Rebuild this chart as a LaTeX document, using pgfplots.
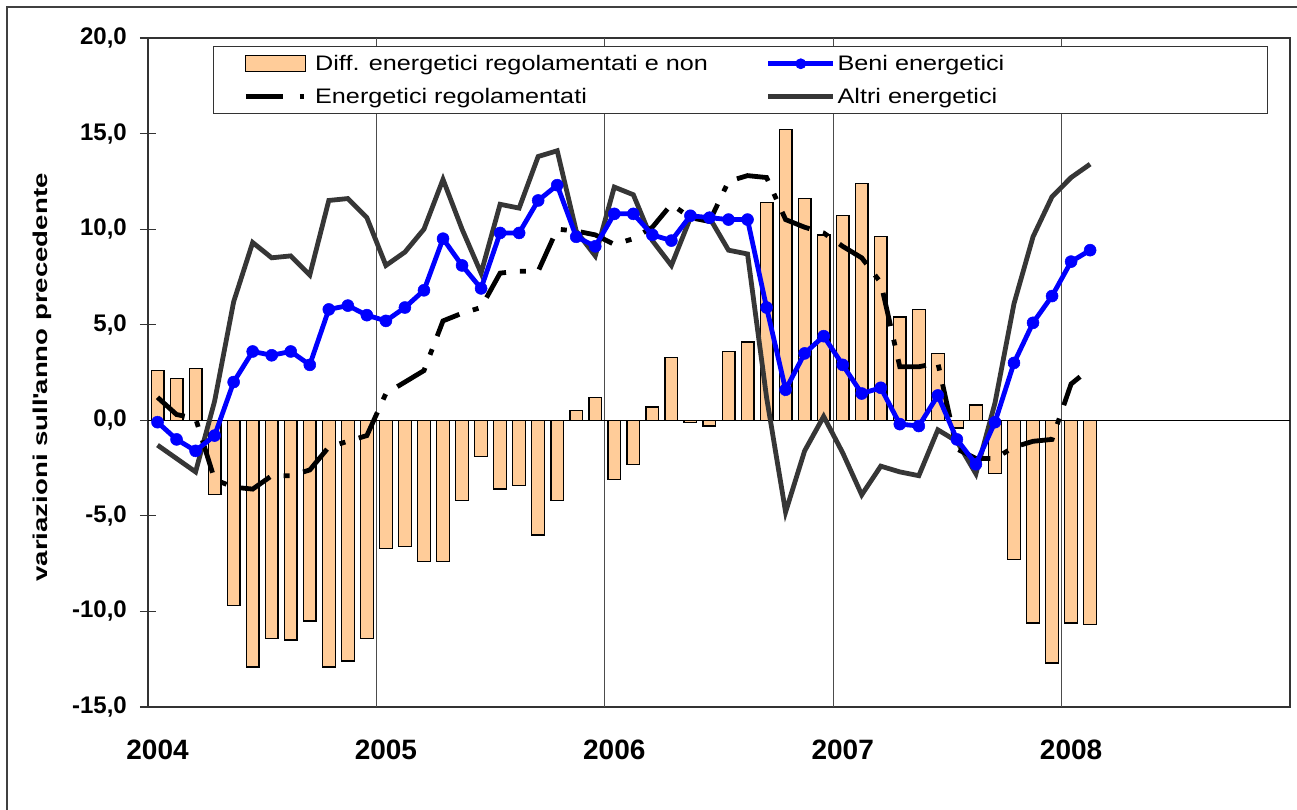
\documentclass[border=0pt]{standalone}
\usepackage{fontspec}
\setmainfont{Liberation Sans}
\newfontfamily\legfont{Liberation Sans}[FakeStretch=1.2]
\newfontfamily\ylabfont{Liberation Sans}[FakeStretch=1.38]
\usepackage{pgfplots}
\usepackage{pgfplotstable}
\pgfplotsset{compat=1.18}
\definecolor{peach}{HTML}{FFCC99}
\definecolor{dgray}{HTML}{363636}

\pgfplotstableread{
x y
0 2.6
1 2.2
2 2.7
3 -3.9
4 -9.7
5 -12.9
6 -11.4
7 -11.5
8 -10.5
9 -12.9
10 -12.6
11 -11.4
12 -6.7
13 -6.6
14 -7.4
15 -7.4
16 -4.2
17 -1.9
18 -3.6
19 -3.4
20 -6.0
21 -4.2
22 0.5
23 1.2
24 -3.1
25 -2.3
26 0.7
27 3.3
28 -0.1
29 -0.3
30 3.6
31 4.1
32 11.4
33 15.2
34 11.6
35 9.7
36 10.7
37 12.4
38 9.6
39 5.4
40 5.8
41 3.5
42 -0.4
43 0.8
44 -2.8
45 -7.3
46 -10.6
47 -12.7
48 -10.6
49 -10.7
}\diffdata

\pgfplotstableread{
x y
0 -0.1
1 -1.0
2 -1.6
3 -0.8
4 2.0
5 3.6
6 3.4
7 3.6
8 2.9
9 5.8
10 6.0
11 5.5
12 5.2
13 5.9
14 6.8
15 9.5
16 8.1
17 6.9
18 9.8
19 9.8
20 11.5
21 12.3
22 9.6
23 9.1
24 10.8
25 10.8
26 9.7
27 9.4
28 10.7
29 10.6
30 10.5
31 10.5
32 5.9
33 1.6
34 3.5
35 4.4
36 2.9
37 1.4
38 1.7
39 -0.2
40 -0.3
41 1.3
42 -1.0
43 -2.3
44 -0.1
45 3.0
46 5.1
47 6.5
48 8.3
49 8.9
}\benidata

\pgfplotstableread{
x y
0 1.2
1 0.3
2 0.1
3 -3.1
4 -3.5
5 -3.6
6 -2.9
7 -2.9
8 -2.6
9 -1.4
10 -1.1
11 -0.8
12 1.4
13 2.0
14 2.6
15 5.2
16 5.6
17 5.9
18 7.7
19 7.8
20 7.8
21 10.0
22 9.9
23 9.7
24 9.2
25 9.5
26 10.1
27 11.3
28 10.6
29 10.4
30 12.5
31 12.8
32 12.7
33 10.5
34 10.1
35 9.8
36 9.1
37 8.5
38 7.2
39 2.8
40 2.8
41 3.0
42 -1.5
43 -2.0
44 -2.0
45 -1.4
46 -1.1
47 -1.0
48 1.9
49 2.7
}\regdata

\pgfplotstableread{
x y
0 -1.3
1 -2.0
2 -2.7
3 1.0
4 6.2
5 9.3
6 8.5
7 8.6
8 7.6
9 11.5
10 11.6
11 10.6
12 8.1
13 8.8
14 10.0
15 12.6
16 10.0
17 7.7
18 11.3
19 11.1
20 13.8
21 14.1
22 9.9
23 8.6
24 12.2
25 11.8
26 9.4
27 8.1
28 10.6
29 10.6
30 8.9
31 8.7
32 1.2
33 -4.8
34 -1.6
35 0.2
36 -1.7
37 -3.9
38 -2.4
39 -2.7
40 -2.9
41 -0.5
42 -1.1
43 -2.8
44 0.9
45 6.1
46 9.6
47 11.7
48 12.7
49 13.4
}\altridata

\begin{document}
\begin{tikzpicture}
\path[use as bounding box] (-148bp,-103bp) rectangle (1149bp,707bp);
\begin{axis}[
  at={(0bp,0bp)}, anchor=south west,
  width=1142bp, height=669bp, scale only axis,
  xmin=-0.5, xmax=59.5, ymin=-15, ymax=20,
  axis line style={draw=black!80, line width=1.2bp},
  xtick={0,12,24,36,48},
  xticklabels={2004,2005,2006,2007,2008},
  extra x ticks={11.5,23.5,35.5,47.5},
  extra x tick labels={},
  extra x tick style={grid=major, major grid style={draw=black!70, line width=1bp}},
  ytick={-15,-10,-5,0,5,10,15,20},
  yticklabels={{-15,0},{-10,0},{-5,0},{0,0},{5,0},{10,0},{15,0},{20,0}},
  ytick pos=left,
  tick align=center,
  major tick length=16bp,
  xtick style={draw=none},
  ytick style={draw=black!80, line width=1.2bp},
  yticklabel style={font=\fontsize{24bp}{24bp}\selectfont\bfseries, inner sep=0pt, anchor=east, xshift=-13bp},
  xticklabel style={font=\fontsize{28bp}{28bp}\selectfont\bfseries, inner sep=0pt, anchor=north, yshift=-25bp},
  ylabel={variazioni sull\textquotesingle anno precedente},
  every axis y label/.style={at={(axis description cs:-0.0924,0.4925)}, rotate=90, anchor=center,
     font=\fontsize{20bp}{20bp}\ylabfont\bfseries},
  legend columns=2,
  legend cell align=left,
  legend style={at={(axis description cs:0.0569,0.988)}, anchor=north west,
    draw=black!80, line width=0.8bp, inner xsep=30bp, inner ysep=7bp,
    font=\fontsize{21bp}{24bp}\legfont,
    /tikz/every even column/.append style={column sep=56bp},
    row sep=12bp},
]
\addplot[ybar, bar width=12.7bp, fill=peach, draw=black, line width=1.3bp, forget plot] table[x=x,y=y] {\diffdata};
\draw[black, line width=1.2bp] (axis cs:-0.5,0) -- (axis cs:59.5,0);
\addplot[dgray, line width=4.8bp, mark=none, forget plot] table[x=x,y=y] {\altridata};
\addplot[black, line width=4.8bp, mark=none, dash pattern=on 34bp off 14bp on 6bp off 14bp, forget plot] table[x=x,y=y] {\regdata};
\addplot[blue, line width=4.8bp, mark=*, mark size=6bp, mark options={solid, fill=blue, draw=blue, line width=0.5bp}, forget plot] table[x=x,y=y] {\benidata};

\addlegendimage{legend image code/.code={\draw[fill=peach, draw=black, line width=1.3bp] (0bp,-8bp) rectangle (60bp,8bp);}}
\addlegendentry{Diff. energetici regolamentati e non}
\addlegendimage{legend image code/.code={\draw[blue, line width=4.8bp] (0bp,0bp) -- (65bp,0bp); \fill[blue] (32.5bp,0bp) circle (5bp);}}
\addlegendentry{\makebox[398bp][l]{Beni energetici}}
\addlegendimage{legend image code/.code={\draw[black, line width=4.8bp, dash pattern=on 37bp off 17bp on 4bp off 17bp] (0bp,0bp) -- (65bp,0bp);}}
\addlegendentry{Energetici regolamentati}
\addlegendimage{legend image code/.code={\draw[dgray, line width=4.8bp] (0bp,0bp) -- (65bp,0bp);}}
\addlegendentry{Altri energetici}
\end{axis}
\draw[black!75, line width=2bp] (-141bp,-103bp) -- (-141bp,700bp) -- (1149bp,700bp);
\end{tikzpicture}
\end{document}
